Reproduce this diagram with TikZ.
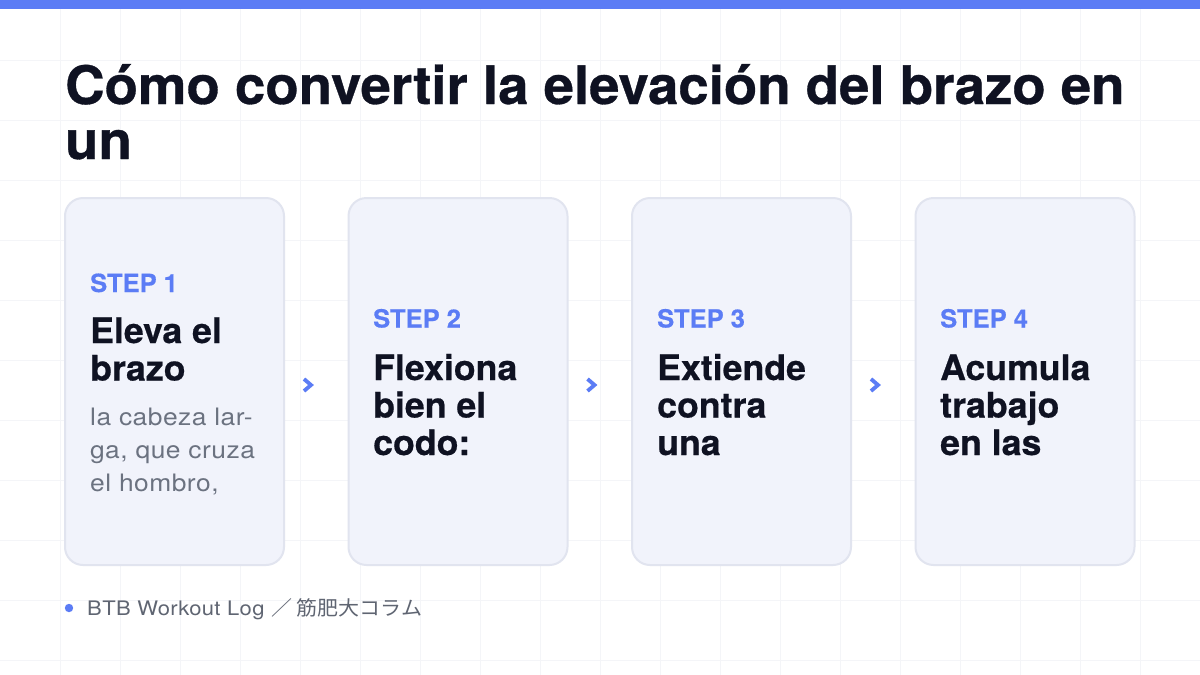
\documentclass[tikz,border=0pt]{standalone}
\usepackage{fontspec}
\setmainfont{TeX Gyre Heros}
\newfontfamily\headfont[FakeStretch=1.03,FakeBold=0.6]{TeX Gyre Heros}
\newfontfamily\cardfont[FakeStretch=1.02,FakeBold=0.5]{TeX Gyre Heros}
\newfontfamily\bodyfont[FakeStretch=1.1,LetterSpace=2]{TeX Gyre Heros}
\newfontfamily\jpfont[FakeStretch=1.05]{Noto Sans CJK JP}
\usetikzlibrary{calc}
\definecolor{accent}{HTML}{5B7CF5}
\definecolor{ink}{HTML}{0F1222}
\definecolor{muted}{HTML}{6B7280}
\definecolor{footc}{HTML}{5F6572}
\definecolor{cardfill}{HTML}{F1F3FB}
\definecolor{cardline}{HTML}{E1E4EF}
\definecolor{gridc}{HTML}{F4F5F8}
\tikzset{
  card/.style={draw=cardline, line width=2pt, fill=cardfill, rounded corners=18pt,
    minimum width=219pt, minimum height=367pt, inner sep=0pt},
  steplbl/.style={anchor=base west, inner sep=0pt, text=accent, font=\fontsize{25}{30}\cardfont\bfseries},
  cardttl/.style={anchor=base west, inner sep=0pt, text=ink, font=\fontsize{35}{38}\cardfont\bfseries},
  cardbody/.style={anchor=base west, inner sep=0pt, text=muted, font=\fontsize{24}{33}\bodyfont},
  titletext/.style={anchor=base west, inner sep=0pt, text=ink, font=\fontsize{53}{56}\headfont\bfseries},
  chev/.style={draw=accent, line width=3.8pt, line join=miter, line cap=butt},
}
\begin{document}
\begin{tikzpicture}[x=1pt,y=-1pt]
\useasboundingbox (0,0) rectangle (1200,675);
\fill[white] (0,0) rectangle (1200,675);
\foreach \gx in {60,120,...,1140} \draw[gridc, line width=1pt] (\gx,0) -- (\gx,675);
\foreach \gy in {60,120,...,660} \draw[gridc, line width=1pt] (0,\gy) -- (1200,\gy);
\fill[accent] (0,0) rectangle (1200,9);

% title
\node[titletext] (t1) at (65,104) {Cómo convertir la elevación del brazo en};
\node[titletext] (t2) at (65,159) {un};

% cards
\node[card] (c1) at (174.5,381.5) {};
\node[card] (c2) at (458,381.5) {};
\node[card] (c3) at (741.5,381.5) {};
\node[card] (c4) at (1025,381.5) {};

% card 1
\node[steplbl] (s1) at (90,292) {STEP 1};
\node[cardttl] (h1a) at (90,343) {Eleva el};
\node[cardttl] (h1b) at (90,380.5) {brazo};
\node[cardbody] (b1a) at (90,425) {la cabeza lar-};
\node[cardbody] (b1b) at (90,458) {ga, que cruza};
\node[cardbody] (b1c) at (90,491) {el hombro,};

% card 2
\node[steplbl] (s2) at (373,327.5) {STEP 2};
\node[cardttl] (h2a) at (373,380) {Flexiona};
\node[cardttl] (h2b) at (373,417.5) {bien el};
\node[cardttl] (h2c) at (373,455) {codo:};

% card 3
\node[steplbl] (s3) at (657,327.5) {STEP 3};
\node[cardttl] (h3a) at (657,380) {Extiende};
\node[cardttl] (h3b) at (657,417.5) {contra};
\node[cardttl] (h3c) at (657,455) {una};

% card 4
\node[steplbl] (s4) at (940,327.5) {STEP 4};
\node[cardttl] (h4a) at (940,380) {Acumula};
\node[cardttl] (h4b) at (940,417.5) {trabajo};
\node[cardttl] (h4c) at (940,455) {en las};

% chevrons between cards
\foreach \a/\b in {c1/c2,c2/c3,c3/c4}{
  \coordinate (m) at ($(\a.east)+(23,3.5)$);
  \draw[chev] ($(m)+(-4,-6)$) -- ($(m)+(3,0)$) -- ($(m)+(-4,6)$);
}

% footer
\fill[accent] (69,608) circle (4.2);
\node[anchor=base west, inner sep=0pt, text=footc, font=\fontsize{20}{24}\bodyfont] (foot) at (87,615)
  {BTB Workout Log {\jpfont ／ 筋肥大コラム}};
\end{tikzpicture}
\end{document}
